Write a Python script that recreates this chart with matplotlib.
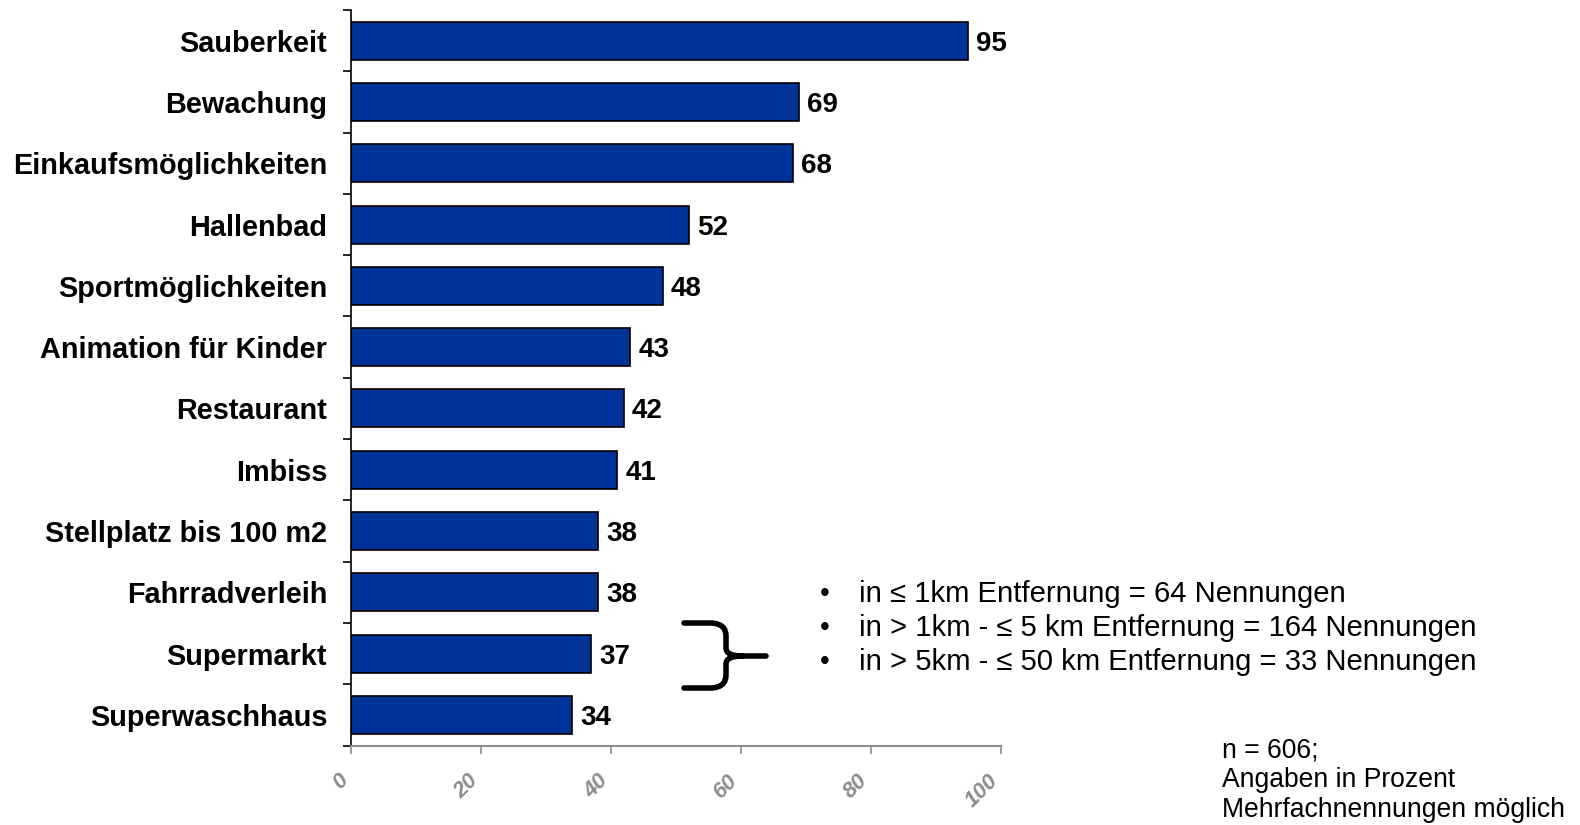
import matplotlib
matplotlib.use("Agg")
import matplotlib.pyplot as plt
import matplotlib.transforms as mtransforms
from matplotlib.path import Path
from matplotlib.patches import PathPatch

categories = ["Sauberkeit", "Bewachung", "Einkaufsmöglichkeiten", "Hallenbad",
              "Sportmöglichkeiten", "Animation für Kinder", "Restaurant", "Imbiss",
              "Stellplatz bis 100 m2", "Fahrradverleih", "Supermarkt", "Superwaschhaus"]
values = [95, 69, 68, 52, 48, 43, 42, 41, 38, 38, 37, 34]
xticks = [0, 20, 40, 60, 80, 100]

notes = ["in ≤ 1km Entfernung = 64 Nennungen",
         "in > 1km - ≤ 5 km Entfernung = 164 Nennungen",
         "in > 5km - ≤ 50 km Entfernung = 33 Nennungen"]
footer = ["n = 606;", "Angaben in Prozent", "Mehrfachnennungen möglich"]

plt.rcParams['font.family'] = ['Liberation Sans', 'DejaVu Sans']

W, H = 1580, 825
fig = plt.figure(figsize=(W / 100, H / 100), dpi=100)
ax = fig.add_axes([0.222, 0.0961, 0.6333 - 0.222, 0.988 - 0.0961])

ypos = list(range(len(categories)))
ax.barh(ypos, values, height=0.62, color='#003399', edgecolor='black', linewidth=1.2)
for y, v in zip(ypos, values):
    ax.annotate(str(v), (v, y), xytext=(6, 0), textcoords='offset points',
                va='center_baseline', ha='left', fontsize=20, fontweight='bold')

ax.set_ylim(len(categories) - 0.5, -0.5)
ax.set_xlim(0, 100)
ax.set_yticks(ypos)
ax.set_yticklabels(categories, fontsize=20.8, fontweight='bold')
ax.set_yticks([i - 0.5 for i in range(len(categories) + 1)], minor=True)
ax.tick_params(axis='y', which='major', length=0, pad=17)
ax.tick_params(axis='y', which='minor', length=6, width=1.2, color='black', direction='out')

ax.set_xticks(xticks)
ax.set_xticklabels([str(t) for t in xticks], rotation=45, ha='right', va='center',
                   rotation_mode='anchor', fontsize=16, fontweight='bold',
                   fontstyle='italic', color='#8c8c8c')
ax.tick_params(axis='x', which='major', length=6, width=1.2, color='#8c8c8c',
               direction='out', pad=17)
shift = mtransforms.ScaledTranslation(-6 / 100, 0, fig.dpi_scale_trans)
for lab in ax.get_xticklabels():
    lab.set_transform(lab.get_transform() + shift)

for s in ['top', 'right']:
    ax.spines[s].set_visible(False)
ax.spines['left'].set_color('black')
ax.spines['left'].set_linewidth(1.2)
ax.spines['bottom'].set_color('#8c8c8c')
ax.spines['bottom'].set_linewidth(1.5)


def fp(x, y):
    return (x / W, 1 - y / H)


# curly brace next to Supermarkt
verts = [fp(684, 623), fp(712, 623), fp(726, 624), fp(726, 636), fp(726, 648),
         fp(726, 656), fp(742, 656), fp(766, 656),
         fp(684, 688), fp(712, 688), fp(726, 687), fp(726, 675), fp(726, 664),
         fp(726, 656), fp(742, 656)]
codes = [Path.MOVETO, Path.LINETO, Path.CURVE3, Path.CURVE3, Path.LINETO,
         Path.CURVE3, Path.CURVE3, Path.LINETO,
         Path.MOVETO, Path.LINETO, Path.CURVE3, Path.CURVE3, Path.LINETO,
         Path.CURVE3, Path.CURVE3]
fig.patches.append(PathPatch(Path(verts, codes), transform=fig.transFigure,
                             fill=False, lw=4, edgecolor='black', capstyle='round'))

for yy, line in zip([0.2806, 0.239, 0.1976], notes):
    fig.text(0.5217, yy, "•", fontsize=20, va='center', ha='center')
    fig.text(0.5434, yy, line, fontsize=21.1, va='center', ha='left')

for yy, line in zip([0.0905, 0.055, 0.0186], footer):
    fig.text(0.7736, yy, line, fontsize=19.1, va='center', ha='left')

fig.savefig("out.png", dpi=100)
